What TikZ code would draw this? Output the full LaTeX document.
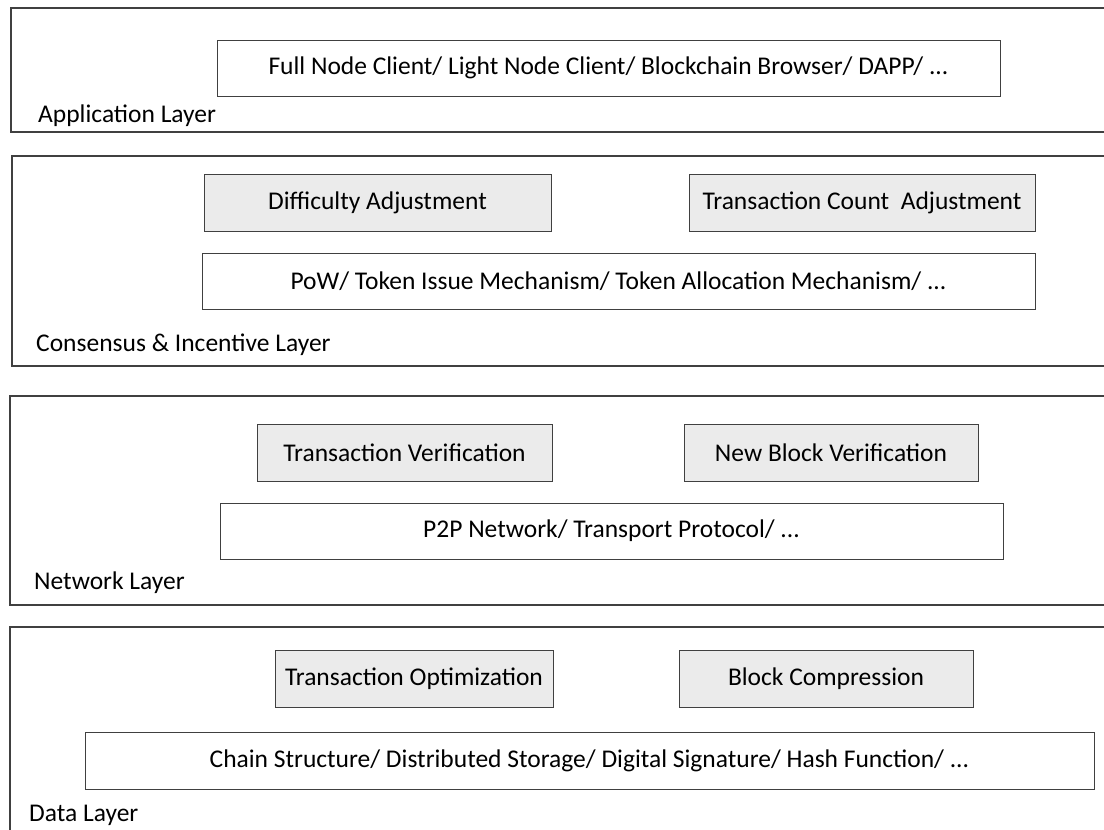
\documentclass[tikz,border=0pt]{standalone}
\usepackage{fontspec}
\setmainfont{Carlito}
\usepackage{tikz}

\begin{document}
\begin{tikzpicture}[x=1pt,y=-1pt,
	layer/.style={draw=black!75,line width=1.2pt},
	plain/.style={shape=rectangle,draw=black!75,line width=1pt,inner sep=0pt,font=\fontsize{25.5}{30}\selectfont},
	module/.style={plain,fill=black!8},
	tag/.style={anchor=base west,inner sep=0pt,font=\fontsize{25.5}{30}\selectfont}]

	\path[use as bounding box,clip] (0,0) rectangle (1104,830);

	% layers
	\draw[layer] (11,8) rectangle (1120,132);
	\draw[layer] (12,156) rectangle (1120,366);
	\draw[layer] (10,396) rectangle (1120,605);
	\draw[layer] (10,627) rectangle (1120,850);

	\node[tag] (app)  at (38,122)  {Application Layer};
	\node[tag] (cons) at (36,351)  {Consensus \& Incentive Layer};
	\node[tag] (net)  at (34,589)  {Network Layer};
	\node[tag] (data) at (29,821)  {Data Layer};

	% application layer
	\node[plain,minimum width=783,minimum height=56] (client) at (608.5,68) {Full Node Client/ Light Node Client/ Blockchain Browser/ DAPP/ ...};

	% consensus & incentive layer
	\node[module,minimum width=347,minimum height=57] (diff) at (377.5,202.5) {Difficulty Adjustment};
	\node[module,minimum width=346,minimum height=57] (count) at (862,202.5) {Transaction Count\ \ Adjustment};
	\node[plain,minimum width=833,minimum height=56] (pow) at (618.5,281) {PoW/ Token Issue Mechanism/ Token Allocation Mechanism/ ...};

	% network layer
	\node[module,minimum width=295,minimum height=57] (txver) at (404.5,452.5) {Transaction Verification};
	\node[module,minimum width=294,minimum height=57] (blkver) at (831,452.5) {New Block Verification};
	\node[plain,minimum width=783,minimum height=56] (p2p) at (611.5,531) {P2P Network/ Transport Protocol/ ...};

	% data layer
	\node[module,minimum width=278,minimum height=57] (txopt) at (414,678.5) {Transaction Optimization};
	\node[module,minimum width=294,minimum height=57] (blkcmp) at (826,678.5) {Block Compression};
	\node[plain,minimum width=1009,minimum height=57] (chain) at (589.5,760.5) {Chain Structure/ Distributed Storage/ Digital Signature/ Hash Function/ ...};

\end{tikzpicture}
\end{document}
